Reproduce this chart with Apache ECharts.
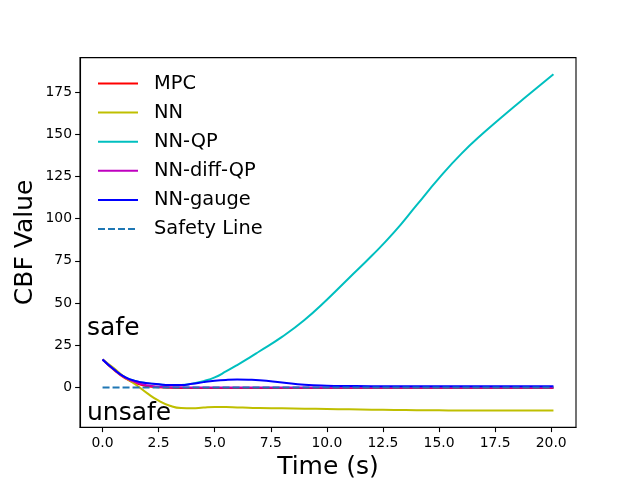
<!DOCTYPE html>
<html>
<head>
<meta charset="utf-8">
<script src="https://cdn.jsdelivr.net/npm/echarts@6/dist/echarts.min.js"></script>
<style>html,body{margin:0;padding:0;background:#fff}#c{width:640px;height:480px}</style>
</head>
<body>
<div id="c"></div>
<script>
var times = [0, 0.5, 1, 1.5, 2, 2.5, 3, 3.5, 4, 4.5, 5, 5.5, 6, 6.5, 7, 8, 9, 10, 11, 12, 13, 14, 15, 16, 17, 18, 19, 20.1];
var mpc       = [16.6, 10.5, 5.5, 2.5, 0.8, 0.1, -0.2, -0.3, -0.3, -0.3, -0.3, -0.3, -0.3, -0.3, -0.3, -0.3, -0.3, -0.3, -0.3, -0.3, -0.3, -0.3, -0.3, -0.3, -0.3, -0.3, -0.3, -0.3];
var nn        = [16.6, 11.5, 6.0, 1.5, -3.5, -7.8, -10.8, -12.2, -12.3, -11.8, -11.5, -11.6, -11.8, -12.0, -12.2, -12.3, -12.5, -12.7, -12.9, -13.1, -13.3, -13.4, -13.5, -13.6, -13.6, -13.6, -13.6, -13.6];
var nnQP      = [16.6, 10.8, 6.2, 3.8, 2.6, 1.9, 1.5, 1.5, 2.3, 3.8, 6.0, 9.5, 13.3, 17.3, 21.5, 30, 40, 52, 65, 78, 92, 108, 124, 138.5, 151, 162.5, 173.5, 185.5];
var nnDiffQP  = [16.6, 10.8, 6.0, 3.0, 1.3, 0.5, 0.2, 0.1, 0, 0, 0, 0, 0, 0, 0, 0, 0, 0, 0, 0, 0, 0, 0, 0, 0, 0, 0, 0];
var nnGauge   = [16.6, 10.8, 6.2, 3.8, 2.6, 1.9, 1.5, 1.5, 2.2, 3.2, 4.0, 4.5, 4.7, 4.6, 4.3, 3.0, 1.7, 1.1, 0.9, 0.8, 0.8, 0.8, 0.8, 0.8, 0.8, 0.8, 0.8, 0.8];
var safetyT   = [0, 20.1];
var safetyV   = [0, 0];
var xTicks = [0, 2.5, 5, 7.5, 10, 12.5, 15, 17.5, 20];
var yTicks = [0, 25, 50, 75, 100, 125, 150, 175];
var names = ['MPC', 'NN', 'NN-QP', 'NN-diff-QP', 'NN-gauge', 'Safety Line'];
var colors = ['#ff0000', '#bfbf00', '#00bfbf', '#bf00bf', '#0000ff', '#1f77b4'];

function pairs(t, v) { return t.map(function (x, i) { return [x, v[i]]; }); }
var FONT = 'DejaVu Sans';
var seriesVals = [mpc, nn, nnQP, nnDiffQP, nnGauge];
var series = seriesVals.map(function (v, i) {
  return {
    name: names[i], type: 'line', data: pairs(times, v), smooth: 0.5,
    symbol: 'none', lineStyle: { color: colors[i], width: 2 }, itemStyle: { color: colors[i] },
    z: 2 + i, animation: false
  };
});
series.push({
  name: names[5], type: 'line', data: pairs(safetyT, safetyV), symbol: 'none',
  lineStyle: { color: colors[5], width: 2, type: [7, 3] }, itemStyle: { color: colors[5] }, z: 10, animation: false
});

var chart = echarts.init(document.getElementById('c'), null, { renderer: 'canvas' });
chart.setOption({
  backgroundColor: '#ffffff',
  animation: false,
  textStyle: { fontFamily: FONT },
  grid: { left: 80, right: 64, top: 57.6, bottom: 52.8, show: true, borderColor: '#000', borderWidth: 1.1,
    backgroundColor: 'transparent', containLabel: false, outerBoundsMode: 'none' },
  legend: {
    data: names, orient: 'vertical', left: 92, top: 68.5, padding: 5,
    itemWidth: 40, itemHeight: 20, itemGap: 9.1,
    itemStyle: { opacity: 0, borderWidth: 0 },
    textStyle: { fontFamily: FONT, fontSize: 19.4, color: '#000', lineHeight: 20, padding: [0, 0, 0, 11] }
  },
  xAxis: {
    type: 'value', min: -1.005, max: 21.105,
    name: 'Time (s)', nameLocation: 'middle', nameGap: 28, nameMoveOverlap: false,
    nameTextStyle: { fontFamily: FONT, fontSize: 25, color: '#000' },
    axisLine: { show: true, onZero: false, lineStyle: { color: '#000', width: 1.1 } },
    axisTick: { show: true, inside: false, length: 4.9, lineStyle: { color: '#000', width: 1.1 }, customValues: xTicks },
    axisLabel: { show: true, margin: 9, fontFamily: FONT, fontSize: 13.9, color: '#000', customValues: xTicks,
      formatter: function (v) { return Number(v).toFixed(1); } },
    splitLine: { show: false }
  },
  yAxis: {
    type: 'value', min: -23.5, max: 195.4,
    name: 'CBF Value', nameLocation: 'middle', nameGap: 42, nameRotate: 90, nameMoveOverlap: false,
    nameTextStyle: { fontFamily: FONT, fontSize: 25, color: '#000' },
    axisLine: { show: true, onZero: false, lineStyle: { color: '#000', width: 1.1 } },
    axisTick: { show: true, inside: false, length: 4.9, lineStyle: { color: '#000', width: 1.1 }, customValues: yTicks },
    axisLabel: { show: true, margin: 8, fontFamily: FONT, fontSize: 13.9, color: '#000', customValues: yTicks,
      formatter: function (v) { return String(Math.round(v)); } },
    splitLine: { show: false }
  },
  graphic: [
    { type: 'text', left: 87, top: 316, z: 100, style: { text: 'safe', fontFamily: FONT, fontSize: 25, fill: '#000' } },
    { type: 'text', left: 87, top: 401, z: 100, style: { text: 'unsafe', fontFamily: FONT, fontSize: 25, fill: '#000' } }
  ],
  series: series
});
</script>
</body>
</html>
